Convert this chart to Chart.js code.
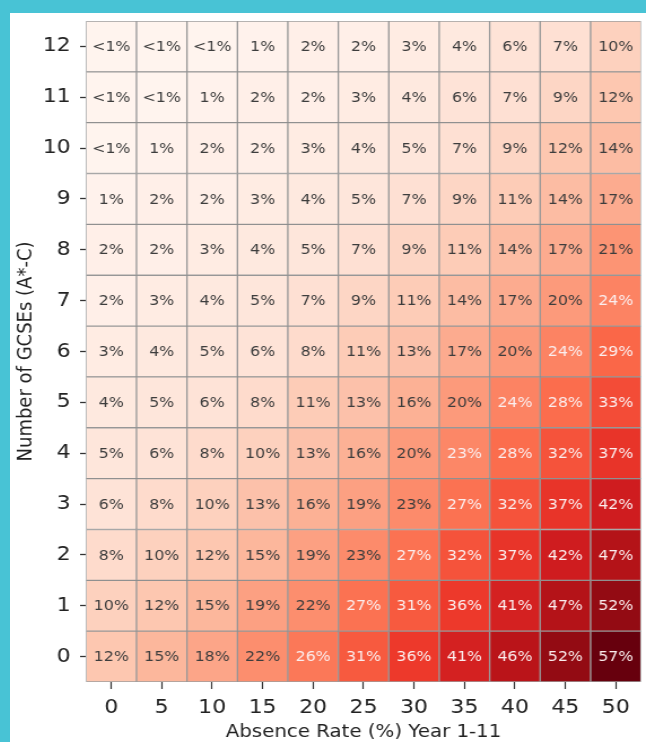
<!DOCTYPE html>
<html>
<head>
<meta charset="utf-8">
<script src="https://cdn.jsdelivr.net/npm/chart.js@4.4.1/dist/chart.umd.min.js"></script>
<style>
  html, body { margin: 0; padding: 0; }
  body { width: 646px; height: 742px; background: #48c3d5; position: relative; overflow: hidden; }
  #wrap { position: absolute; left: 10px; top: 13px; width: 636px; height: 729px; background: #fff; overflow: hidden; }
  /* the original picture is a little wider than it is tall, so the drawing is stretched sideways */
  #inner { width: 563px; height: 729px; transform: scaleX(1.1297); transform-origin: 0 0; }
</style>
</head>
<body>
<div id="wrap"><div id="inner"><canvas id="myChart" width="563" height="729"></canvas></div></div>
<script>
// absence rate categories (x axis)
const absence = [0, 5, 10, 15, 20, 25, 30, 35, 40, 45, 50];
// number of GCSEs (y axis)
const gcses = [0, 1, 2, 3, 4, 5, 6, 7, 8, 9, 10, 11, 12];
// percentage in each cell, one row per GCSE count (0.5 means "<1%")
const pct = [
    [12, 15, 18, 22, 26, 31, 36, 41, 46, 52, 57],
    [10, 12, 15, 19, 22, 27, 31, 36, 41, 47, 52],
    [8, 10, 12, 15, 19, 22.6, 27, 32, 37, 42, 47],
    [6, 8, 10, 13, 16, 19, 22.6, 27, 32, 37, 42],
    [5, 6, 8, 10, 13, 16, 20, 23.4, 28, 32, 37],
    [4, 5, 6, 8, 11, 13, 16, 20, 24, 28, 33],
    [3, 4, 5, 6, 8, 11, 13, 17, 20, 24, 29],
    [2, 3, 4, 5, 7, 9, 11, 14, 17, 20, 24],
    [2, 2, 3, 4, 5, 7, 9, 11, 14, 17, 21],
    [1, 2, 2, 3, 4, 5, 7, 9, 11, 14, 17],
    [0.5, 1, 2, 2, 3, 4, 5, 7, 9, 12, 14],
    [0.5, 0.5, 1, 2, 2, 3, 4, 6, 7, 9, 12],
    [0.5, 0.5, 0.5, 1, 2, 2, 3, 4, 6, 7, 10]
];

// matplotlib "Reds"
const reds = ['#fff5f0', '#fee0d2', '#fcbba1', '#fc9272', '#fb6a4a', '#ef3b2c', '#cb181d', '#a50f15', '#67000d'];
const vmax = 57;

function hexToRgb(h) {
    return [parseInt(h.substr(1, 2), 16), parseInt(h.substr(3, 2), 16), parseInt(h.substr(5, 2), 16)];
}

function redsColor(v) {
    let t = Math.max(0, Math.min(1, v / vmax)) * (reds.length - 1);
    let i = Math.min(Math.floor(t), reds.length - 2);
    let f = t - i;
    let a = hexToRgb(reds[i]), b = hexToRgb(reds[i + 1]);
    let c = a.map((x, k) => Math.round(x + (b[k] - x) * f));
    return 'rgb(' + c.join(',') + ')';
}

function cellLabel(v) {
    return v < 1 ? '<1%' : Math.round(v) + '%';
}

const datasets = gcses.map(g => ({
    label: String(g),
    data: absence.map(() => [g - 0.5, g + 0.5]),
    backgroundColor: pct[g].map(v => redsColor(v)),
    borderColor: 'rgba(125,125,125,0.75)',
    borderWidth: 1,
    borderSkipped: false,
    barPercentage: 1,
    categoryPercentage: 1
}));

// writes the percentage in the middle of every cell
const cellText = {
    id: 'cellText',
    afterDatasetsDraw(chart) {
        const ctx = chart.ctx;
        ctx.save();
        ctx.font = '14px "DejaVu Sans"';
        ctx.textAlign = 'center';
        ctx.textBaseline = 'middle';
        chart.data.datasets.forEach((ds, di) => {
            const meta = chart.getDatasetMeta(di);
            meta.data.forEach((el, i) => {
                const v = pct[di][i];
                ctx.fillStyle = v > 23 ? '#fbeeee' : '#3d3d3d';
                ctx.fillText(cellLabel(v), el.x, (el.y + el.base) / 2 + 1);
            });
        });
        ctx.restore();
    }
};

const ctx = document.getElementById('myChart').getContext('2d');
const myChart = new Chart(ctx, {
    type: 'bar',
    data: {
        labels: absence.map(String),
        datasets: datasets
    },
    options: {
        responsive: false,
        animation: false,
        layout: { padding: { top: 8, right: 4.4, left: 0, bottom: 0 } },
        plugins: {
            legend: { display: false },
            tooltip: { enabled: false }
        },
        scales: {
            x: {
                stacked: true,
                offset: true,
                grid: { offset: false, drawOnChartArea: false, tickLength: 7, tickColor: '#333', tickWidth: 1.2 },
                border: { display: false },
                ticks: { color: '#222', font: { family: 'DejaVu Sans', size: 19.5 }, padding: 7, maxRotation: 0 },
                title: {
                    display: true,
                    text: 'Absence Rate (%) Year 1-11',
                    color: '#222',
                    font: { family: 'DejaVu Sans', size: 17.5 },
                    padding: { top: 0, bottom: -1 }
                },
                afterFit: scale => { scale.height = 60; }
            },
            y: {
                stacked: false,
                min: -0.5,
                max: 12.5,
                afterBuildTicks: scale => { scale.ticks = gcses.map(v => ({ value: v })); },
                grid: { drawOnChartArea: false, tickLength: 5.3, tickColor: '#333', tickWidth: 1.3 },
                border: { display: false },
                ticks: { color: '#222', font: { family: 'DejaVu Sans', size: 19.5 }, padding: 8.3 },
                title: {
                    display: true,
                    text: 'Number of GCSEs (A*-C)',
                    color: '#222',
                    font: { family: 'DejaVu Sans', size: 18 },
                    padding: { top: 4, bottom: 0 }
                },
                afterFit: scale => {
                    scale.width = 67.3;
                    scale.paddingTop = 0;
                    scale.paddingBottom = 0;
                }
            }
        }
    },
    plugins: [cellText]
});
</script>
</body>
</html>
